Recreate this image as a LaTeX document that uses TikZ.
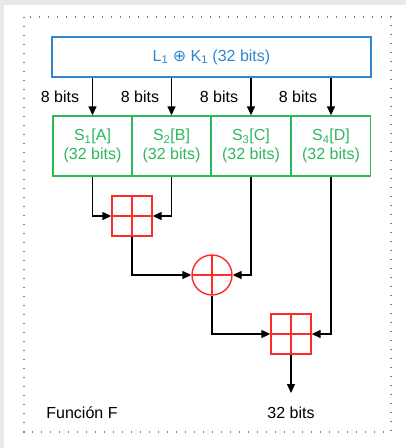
\documentclass[tikz,border=0pt]{standalone}
\usepackage{fontspec}
\setmainfont{Liberation Sans}
\newfontfamily\symfont{DejaVu Sans}
\usetikzlibrary{arrows.meta}
\definecolor{fblue}{HTML}{2F86D2}
\definecolor{fgreen}{HTML}{2DB85A}
\definecolor{fred}{HTML}{FF2A2A}
\definecolor{fgray}{HTML}{E9E9E9}
\tikzset{
  arr/.style={line width=1.4pt, -{Triangle[length=9pt,width=8pt]}},
  sbox/.style={draw=fgreen, line width=1.4pt, minimum width=79pt, minimum height=60pt,
    inner sep=0pt, align=center, text=fgreen},
  addsq/.style={draw=fred, line width=1.4pt, minimum size=40pt, inner sep=0pt,
    path picture={\draw[fred, line width=1.4pt]
      (path picture bounding box.north) -- (path picture bounding box.south)
      (path picture bounding box.west) -- (path picture bounding box.east);}},
  xorc/.style={circle, draw=fred, line width=1.4pt, minimum size=40pt, inner sep=0pt,
    path picture={\draw[fred, line width=1.4pt]
      (path picture bounding box.north) -- (path picture bounding box.south)
      (path picture bounding box.west) -- (path picture bounding box.east);}},
  lbl/.style={inner sep=0pt}
}
\begin{document}
\begin{tikzpicture}[x=1pt, y=-1pt, font=\fontsize{16}{19}\selectfont]
    \useasboundingbox (0,0) rectangle (406,448);
    % page background and dotted frame
    \fill[fgray] (0,0) rectangle (406,448);
    \fill[white] (4,5) rectangle (406,448);
    \draw[gray, line width=1.2pt, dash pattern=on 1.2pt off 7.8pt] (24,17) rectangle (391,432);
    % input block
    \node[draw=fblue, line width=1.4pt, minimum width=319pt, minimum height=40pt, text=fblue]
        (top) at (211.5,57) {L\textsubscript{1} {\symfont ⊕} K\textsubscript{1} (32 bits)};
    % S-boxes
    \node[sbox] (s1) at (92.5,146) {S\textsubscript{1}[A]\\(32 bits)};
    \node[sbox] (s2) at (171.5,146) {S\textsubscript{2}[B]\\(32 bits)};
    \node[sbox] (s3) at (251,146) {S\textsubscript{3}[C]\\(32 bits)};
    \node[sbox] (s4) at (331,146) {S\textsubscript{4}[D]\\(32 bits)};
    \node[lbl] (b1) at (60,97) {8 bits};
    \node[lbl] (b2) at (140,97) {8 bits};
    \node[lbl] (b3) at (219,97) {8 bits};
    \node[lbl] (b4) at (298,97) {8 bits};
    \foreach \s in {s1,s2,s3,s4}
        \draw[arr] (\s.north |- top.south) -- (\s.north);
    % combining stage
    \node[addsq] (add1) at (132,216) {};
    \node[xorc] (xor) at (212,275) {};
    \node[addsq] (add2) at (291,334) {};
    \draw[arr] (s1.south) |- (add1.west);
    \draw[arr] (s2.south) |- (add1.east);
    \draw[arr] (add1.south) |- (xor.west);
    \draw[arr] (s3.south) |- (xor.east);
    \draw[arr] (xor.south) |- (add2.west);
    \draw[arr] (s4.south) |- (add2.east);
    \coordinate (out) at (291,393);
    \draw[arr] (add2.south) -- (out);
    \node[lbl] (res) at (291,413) {32 bits};
    \node[lbl] (name) at (82,413) {Función F};
\end{tikzpicture}
\end{document}
